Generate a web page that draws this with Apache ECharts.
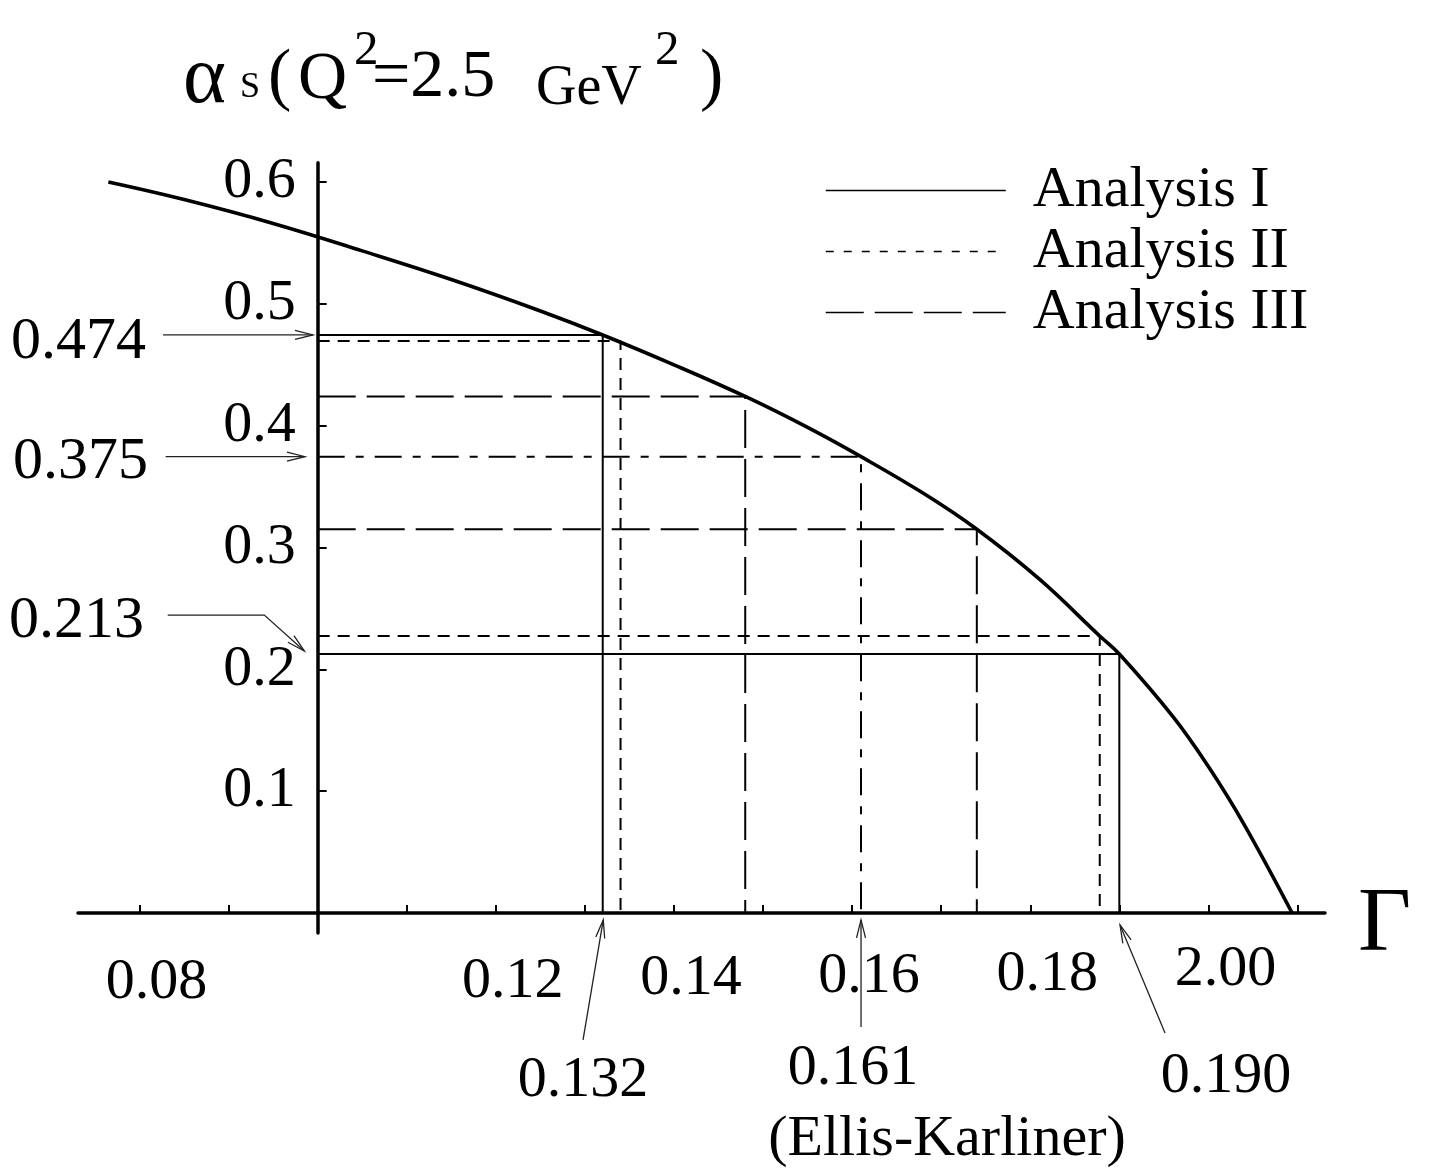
<!DOCTYPE html>
<html><head><meta charset="utf-8">
<script src="https://cdn.jsdelivr.net/npm/echarts@6/dist/echarts.min.js"></script>
<style>html,body{margin:0;padding:0;background:#fff}#c{width:1434px;height:1174px}</style>
</head><body><div id="c"></div>
<script>
// ---------------- data ----------------
const curveX = [0.0765, 0.085, 0.095, 0.105, 0.115, 0.125, 0.132, 0.140, 0.148, 0.155, 0.161, 0.168, 0.174, 0.181, 0.1878, 0.190, 0.196, 0.200, 0.204, 0.2094];
const curveY = [0.600, 0.5856, 0.566, 0.5435, 0.520, 0.4942, 0.4745, 0.450, 0.424, 0.3986, 0.3746, 0.3445, 0.315, 0.2742, 0.2274, 0.2126, 0.1614, 0.1202, 0.0728, 0.000];

const analysisI   = [[0.1320, 0.4745], [0.1900, 0.2126]];
const analysisII  = [[0.1340, 0.4696], [0.1878, 0.2274]];
const analysisIII = [[0.1480, 0.4240], [0.1740, 0.3150]];
const ellisKarliner = [[0.1610, 0.3746]];

const yAxisCrossX = 0.10;
const xExtent = [0.07309, 0.21309];
const yExtent = [-0.0164, 0.6159];

const xTickValues = [0.08, 0.09, 0.10, 0.11, 0.12, 0.13, 0.14, 0.15, 0.16, 0.17, 0.18, 0.19, 0.20, 0.21];
const xLabelValues = [0.08, 0.12, 0.14, 0.16, 0.18, 0.20];
const xLabelTexts = ['0.08', '0.12', '0.14', '0.16', '0.18', '2.00'];
const yTickValues = [0.1, 0.2, 0.3, 0.4, 0.5, 0.6];
const yLabelTexts = ['0.1', '0.2', '0.3', '0.4', '0.5', '0.6'];

const legendNames = ['Analysis I', 'Analysis II', 'Analysis III'];

// annotation arrows, in data units: [tail ... head]
const yArrows = [
  [[0.08263, 0.4745], [0.09947, 0.4745]],
  [[0.08293, 0.3746], [0.09857, 0.3746]],
  [[0.08316, 0.2446], [0.09401, 0.2446], [0.09850, 0.2151]]
];
const xArrows = [
  [[0.12979, -0.1042], [0.13206, -0.0057]],
  [[0.16100, -0.0936], [0.16100, -0.0057]],
  [[0.19513, -0.0985], [0.19008, -0.0098]]
];
const yArrowTexts = ['0.474', '0.375', '0.213'];
const xArrowTexts = ['0.132', '0.161', '0.190'];
const ekText = '(Ellis-Karliner)';

// ---------------- chart ----------------
const FONT = 'Liberation Serif';
const chart = echarts.init(document.getElementById('c'));
const gridLeft = 78, gridRight = 109, gridTop = 162.7, gridBottom = 241;
const gridWidth = 1434 - gridLeft - gridRight;
const yAxisOffset = -(yAxisCrossX - xExtent[0]) / (xExtent[1] - xExtent[0]) * gridWidth;

const DASH_I = 'solid', DASH_II = [12, 8], DASH_III = [38, 11], DASH_EK = [27, 11, 8, 11];

function dropSeries(name, pts, dash) {
  return pts.map(p => ({
    name: name, type: 'line', symbol: 'none', silent: true, z: 2,
    data: [[yAxisCrossX, p[1]], [p[0], p[1]], [p[0], 0]],
    lineStyle: {color: '#000', width: 2, type: dash}
  }));
}

const xRich = {};
const xPadTop = [13, 12, 9, 7, 5, 0];
xLabelValues.forEach((v, i) => {
  xRich['l' + i] = {fontFamily: FONT, fontSize: 58, color: '#000', padding: [xPadTop[i], 0, 0, 34]};
});

const series = [].concat(
  dropSeries(legendNames[0], analysisI, DASH_I),
  dropSeries(legendNames[1], analysisII, DASH_II),
  dropSeries(legendNames[2], analysisIII, DASH_III),
  dropSeries('Ellis-Karliner', ellisKarliner, DASH_EK),
  [{
    name: 'curve', type: 'line', symbol: 'none', silent: true, z: 5,
    smooth: 0.4,
    data: curveX.map((x, i) => [x, curveY[i]]),
    lineStyle: {color: '#000', width: 3.6}
  }]
);

const option = {
  animation: false,
  backgroundColor: '#fff',
  grid: {left: gridLeft, right: gridRight, top: gridTop, bottom: gridBottom},
  xAxis: {
    type: 'value', min: xExtent[0], max: xExtent[1],
    splitLine: {show: false},
    axisLine: {onZero: true, lineStyle: {color: '#000', width: 3.5}},
    axisTick: {show: true, inside: true, length: 8, customValues: xTickValues, lineStyle: {color: '#000', width: 2}},
    axisLabel: {
      customValues: xLabelValues, margin: 8,
      formatter: function (v) {
        let idx = 0, best = 1;
        xLabelValues.forEach((lv, i) => { if (Math.abs(lv - v) < best) { best = Math.abs(lv - v); idx = i; } });
        return '{l' + idx + '|' + xLabelTexts[idx] + '}';
      },
      rich: xRich
    }
  },
  yAxis: {
    type: 'value', min: yExtent[0], max: yExtent[1], position: 'left', offset: yAxisOffset,
    splitLine: {show: false},
    axisLine: {onZero: false, lineStyle: {color: '#000', width: 3.5}},
    axisTick: {show: true, inside: true, length: 9, customValues: yTickValues, lineStyle: {color: '#000', width: 2}},
    axisLabel: {
      customValues: yTickValues, margin: 22,
      formatter: function (v) {
        let idx = 0, best = 1;
        yTickValues.forEach((lv, i) => { if (Math.abs(lv - v) < best) { best = Math.abs(lv - v); idx = i; } });
        return yLabelTexts[idx];
      },
      fontFamily: FONT, fontSize: 58, color: '#000'
    }
  },
  legend: {
    orient: 'vertical', left: 820, top: 156, itemGap: 2, itemWidth: 180, itemHeight: 14,
    selectedMode: false,
    textStyle: {fontFamily: FONT, fontSize: 58, color: '#000', lineHeight: 59, padding: [0, 0, 0, 22]},
    data: [
      {name: legendNames[0], itemStyle: {opacity: 0}, lineStyle: {color: '#000', width: 1.5, type: 'solid'}},
      {name: legendNames[1], itemStyle: {opacity: 0}, lineStyle: {color: '#000', width: 1.5, type: [8, 10]}},
      {name: legendNames[2], itemStyle: {opacity: 0}, lineStyle: {color: '#000', width: 1.5, type: [38, 11]}}
    ]
  },
  series: series
};
chart.setOption(option);

// ---------------- annotations placed through the chart's scales ----------------
function px(p) { return chart.convertToPixel({gridIndex: 0}, p); }
const ARROW_COLOR = '#222';
const graphics = [];
function addArrow(pts) {
  const P = pts.map(px);
  graphics.push({type: 'polyline', silent: true, z: 10, shape: {points: P},
    style: {stroke: ARROW_COLOR, lineWidth: 1.3, fill: null}});
  const a = P[P.length - 2], b = P[P.length - 1];
  const dx = b[0] - a[0], dy = b[1] - a[1];
  const L = Math.sqrt(dx * dx + dy * dy);
  const ux = dx / L, uy = dy / L;
  const hl = 18, hw = 4.5;
  const bx = b[0] - ux * hl, by = b[1] - uy * hl;
  graphics.push({type: 'polyline', silent: true, z: 10,
    shape: {points: [[bx - uy * hw, by + ux * hw], b, [bx + uy * hw, by - ux * hw]]},
    style: {stroke: ARROW_COLOR, lineWidth: 1.3, fill: null}});
}
yArrows.forEach(addArrow);
xArrows.forEach(addArrow);

function txt(text, x, y, size, align) {
  graphics.push({type: 'text', silent: true, z: 10, x: x, y: y,
    style: {text: text, fontFamily: FONT, fontSize: size, fill: '#000',
      align: align || 'left', verticalAlign: 'middle'}});
}
// labels of the arrows
txt(yArrowTexts[0], 146, 342, 60, 'right');
txt(yArrowTexts[1], 148, 462, 60, 'right');
txt(yArrowTexts[2], 144, 621, 60, 'right');
txt(xArrowTexts[0], 583, 1081, 58, 'center');
txt(xArrowTexts[1], 853, 1069, 58, 'center');
txt(ekText, 947, 1140, 58, 'center');
txt(xArrowTexts[2], 1226, 1077, 58, 'center');
// axis name on x
txt('Γ', 1358, 926, 92, 'left');
// axis title on y: αs(Q²=2.5 GeV²)
txt('α', 183, 80, 82);
txt('S', 240, 88, 36);
txt('(', 268, 79, 70);
txt('Q', 298, 80, 68);
txt('2', 354, 51, 49);
txt('=2.5', 372, 78, 68);
txt('GeV', 536, 89, 56);
txt('2', 655, 51, 49);
txt(')', 700, 79, 70);

chart.setOption({graphic: graphics});
</script>
</body></html>
